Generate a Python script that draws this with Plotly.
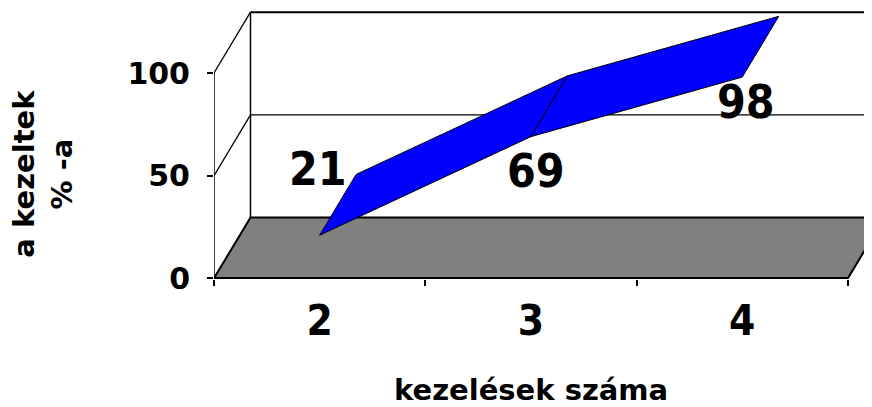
import plotly.graph_objects as go

# ---- data ----
categories = ["2", "3", "4"]
values = [21, 69, 98]
data_labels = ["21", "69", "98"]
y_ticks = [0, 50, 100]
y_tick_text = ["0", "50", "100"]
x_title = "kezelések száma"
y_title = "a kezeltek<br>% -a"

# ---- style / projection constants ----
OFF = 8               # page body margin of the html page
W, H = 872 - OFF, 407 - OFF
ML, MR, MT, MB = 214 - OFF, 0, 0, 407 - 279
PX_X = 211.3          # px per category
PX_Y = 2.053          # px per value unit
ZERO_PX = 278.3 - OFF # pixel row of value 0 on the front plane
DX = 36.5 / PX_X      # depth offset (category units)
DY = 60.8 / PX_Y      # depth offset (value units)
label_shift = [(-2, 66), (5, -34), (4, -25)]  # (xshift, yshift) px
BLUE = "#0000FF"
GRAY = "#808080"
BOLD_FONT = "DejaVu Sans"
NARROW_FONT = "Liberation Sans Narrow, DejaVu Sans Condensed, Liberation Sans"

n = len(categories)
xs = list(range(n))
x_lo, x_hi = -0.5, n - 0.5
ymax = max(y_ticks)

plot_w = W - ML - MR
plot_h = H - MT - MB
x_range = [x_lo, x_lo + plot_w / PX_X]
y_top = (ZERO_PX - MT) / PX_Y
y_range = [y_top - plot_h / PX_Y, y_top]

fig = go.Figure()


def line(xv, yv, width=1.5, color="black"):
    fig.add_trace(go.Scatter(x=xv, y=yv, mode="lines",
                             line=dict(color=color, width=width),
                             hoverinfo="skip", showlegend=False))


# back wall: left edge and gridlines
line([x_lo + DX, x_lo + DX], [DY, ymax + DY], 1.5)
for t in y_ticks[1:]:
    w = 2 if t == ymax else 1.2
    line([x_lo + DX, x_hi + DX], [t + DY, t + DY], w)
    # side wall gridline
    line([x_lo, x_lo + DX], [t, t + DY], 1.3)

# floor
fig.add_trace(go.Scatter(
    x=[x_lo, x_hi, x_hi + DX, x_lo + DX, x_lo],
    y=[0, 0, DY, DY, 0],
    mode="lines", fill="toself", fillcolor=GRAY,
    line=dict(color="black", width=2), hoverinfo="skip", showlegend=False))

# ribbon
for i in range(n - 1):
    fig.add_trace(go.Scatter(
        x=[xs[i], xs[i + 1], xs[i + 1] + DX, xs[i] + DX, xs[i]],
        y=[values[i], values[i + 1], values[i + 1] + DY, values[i] + DY, values[i]],
        mode="lines", fill="toself", fillcolor=BLUE,
        line=dict(color="black", width=1), hoverinfo="skip", showlegend=False))

# front axes
line([x_lo, x_lo], [0, ymax], 1.5)
line([x_lo, x_hi], [0, 0], 2.5)

annotations = []
for i, (lab, (sx, sy)) in enumerate(zip(data_labels, label_shift)):
    annotations.append(dict(
        x=xs[i], y=values[i], xref="x", yref="y", text=lab, showarrow=False,
        xanchor="center", yanchor="middle", xshift=sx, yshift=sy,
        font=dict(family=NARROW_FONT, size=46, color="black", weight="bold")))

annotations.append(dict(
    x=(43 - OFF - ML) / plot_w, y=ymax / 2, xref="paper", yref="y",
    text=y_title, showarrow=False, textangle=-90, yshift=2,
    xanchor="center", yanchor="middle",
    font=dict(family=BOLD_FONT, size=29, color="black", weight="bold")))
annotations.append(dict(
    x=(x_lo + x_hi) / 2, y=(MT + plot_h - 382.5) / plot_h, xref="x", yref="paper",
    text=x_title, showarrow=False, xanchor="center", yanchor="middle",
    font=dict(family=BOLD_FONT, size=29, color="black", weight="bold")))

fig.update_layout(
    width=W, height=H,
    margin=dict(l=ML, r=MR, t=MT, b=MB),
    paper_bgcolor="white", plot_bgcolor="white",
    showlegend=False,
    annotations=annotations,
    xaxis=dict(range=x_range, tickmode="array", tickvals=xs, ticktext=categories,
               ticks="", showgrid=False, zeroline=False, showline=False,
               ticklabelstandoff=13,
               tickfont=dict(family=NARROW_FONT, size=42, color="black", weight="bold"),
               minor=dict(tickmode="array", tickvals=[x_lo + k for k in range(n + 1)],
                          ticks="outside", ticklen=6, tickwidth=1.5, tickcolor="black",
                          showgrid=False),
               fixedrange=True),
    yaxis=dict(range=y_range, tickmode="array", tickvals=y_ticks, ticktext=y_tick_text,
               ticks="outside", ticklen=6, tickwidth=1.5, tickcolor="black",
               showgrid=False, zeroline=False, showline=False,
               ticklabelstandoff=11,
               tickfont=dict(family=BOLD_FONT, size=30, color="black", weight="bold"),
               fixedrange=True),
)

fig.write_html("out.html")
